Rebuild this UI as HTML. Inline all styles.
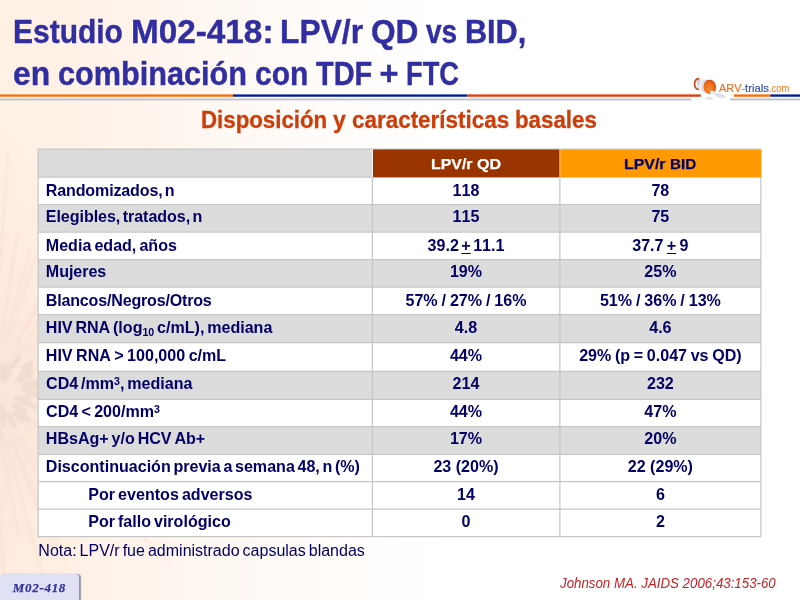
<!DOCTYPE html>
<html lang="es">
<head>
<meta charset="utf-8">
<title>Estudio M02-418: LPV/r QD vs BID</title>
<style>
html,body{margin:0;padding:0;}
body{width:800px;height:600px;overflow:hidden;position:relative;background:#fff;
  font-family:"Liberation Sans",sans-serif;font-kerning:none;}
#bg{position:absolute;left:0;top:0;width:800px;height:600px;
  background:radial-gradient(ellipse 100px 280px at 0 410px,rgba(247,224,208,.6),rgba(247,224,208,0) 100%),linear-gradient(90deg,#fff0e4 0%,#fff1e6 8%,#fff3ea 14%,#fff7f1 25%,#fffbf8 37.5%,#fffefd 50%,#ffffff 56%,#ffffff 100%);}
#bgsvg{position:absolute;left:0;top:0;width:800px;height:600px;filter:blur(0.8px);}
.t{position:absolute;white-space:pre;line-height:1;margin:0;}
h1,h2{margin:0;padding:0;font-size:inherit;font-weight:inherit;}
.w{position:absolute;white-space:pre;line-height:1;display:block;transform-origin:0 0;font-weight:bold;}
.t1,.t2{font-size:32.5px;color:#302ea0;-webkit-text-stroke:0.4px #302ea0;}
.t1{top:15.5px;}
.t2{top:57.5px;}
.sb{font-size:24.4px;color:#cc3d0a;top:107.6px;-webkit-text-stroke:0.3px #cc3d0a;}
.hd{font-size:15.5px;top:7px;text-align:left;-webkit-text-stroke:0.25px currentColor;}
.h1t{color:#fff;}
.h2t{color:#000066;}
.lg{font-size:11.2px;top:83.4px;font-weight:normal;-webkit-text-stroke:0.2px currentColor;}
/* table text laid out in absolutely positioned rows so the fractional row pitch is kept; grid + fills are drawn in #grid */
#grid{position:absolute;left:0;top:0;width:800px;height:600px;}
table{position:absolute;display:block;left:37.5px;top:149px;width:723.4px;height:387.4px;
  font-weight:bold;font-size:16.07px;color:#000066;border-spacing:0;}
tbody{display:block;}
tr{display:block;position:absolute;left:0;width:723.4px;}
td,th{display:block;position:absolute;top:0;height:100%;line-height:inherit;padding:0;text-align:center;white-space:nowrap;}
td:nth-child(1),th:nth-child(1){left:0;width:334.9px;text-align:left;}
td:nth-child(2),th:nth-child(2){left:335.3px;width:186.4px;}
td:nth-child(3),th:nth-child(3){left:522.2px;width:201.4px;}
td:nth-child(1) span{position:relative;}
sub,sup{font-size:66%;line-height:0;}
sup{vertical-align:4.3px;}
sub{vertical-align:-3.2px;}
u{text-decoration-thickness:1.2px;text-underline-offset:1.5px;}
#note{top:542.6px;font-size:16px;color:#000066;}
.rf{font-size:14.6px;font-weight:normal;font-style:italic;color:#c42026;top:575.74px;}
#badge{position:absolute;left:-0.5px;top:574.4px;width:79.2px;height:32px;border-radius:4px;background:#e0e1f5;
  box-shadow:1.2px 0.5px 1.2px rgba(110,110,130,.7);}
#badgetxt{top:581px;font-family:"Liberation Serif","DejaVu Serif",serif;font-weight:bold;font-style:italic;font-size:13px;color:#333399;-webkit-text-stroke:0.25px #333399;}
#rules{position:absolute;left:0;top:0;width:800px;height:600px;}
#logo{position:absolute;left:685px;top:70px;width:60px;height:35px;}
</style>
</head>
<body>
<div id="bg"></div>
<svg id="bgsvg" viewBox="0 0 800 600">
<g stroke="#f3d8c6" stroke-linecap="round" fill="none" opacity="0.4">
<path d="M-4.8 343.7L8.1 150.9" stroke-width="2.1"/>
<path d="M-0.2 343.8L17.8 233.8" stroke-width="2.2"/>
<path d="M5.4 341.9L30.8 246.7" stroke-width="1.9"/>
<path d="M8.1 342.4L58.8 186.3" stroke-width="1.5"/>
<path d="M16.5 343.4L87.5 202.8" stroke-width="2.4"/>
<path d="M11.3 356.7L87.1 218.2" stroke-width="1.5"/>
<path d="M16.4 355.8L72.2 273.2" stroke-width="2.1"/>
<path d="M26.0 351.8L119.3 241.6" stroke-width="2.4"/>
<path d="M27.7 357.1L128.2 259.1" stroke-width="1.8"/>
<path d="M35.8 358.9L177.4 251.8" stroke-width="2.5"/>
<path d="M27.8 367.3L133.4 294.4" stroke-width="1.5"/>
<path d="M32.8 370.7L198.6 284.0" stroke-width="2.0"/>
<path d="M41.0 372.6L122.2 340.4" stroke-width="1.7"/>
<path d="M37.1 378.6L229.5 321.2" stroke-width="2.0"/>
<path d="M39.8 379.4L210.2 334.6" stroke-width="1.8"/>
<path d="M36.4 384.6L234.7 351.5" stroke-width="2.6"/>
<path d="M35.6 388.8L142.7 381.1" stroke-width="1.5"/>
<path d="M34.6 394.8L193.1 405.3" stroke-width="2.1"/>
<path d="M42.6 397.8L145.4 409.7" stroke-width="2.4"/>
<path d="M37.4 401.2L152.1 424.6" stroke-width="1.8"/>
<path d="M40.9 409.9L154.9 451.7" stroke-width="2.8"/>
<path d="M34.5 409.4L208.5 480.8" stroke-width="2.4"/>
<path d="M40.8 417.0L137.6 466.4" stroke-width="1.8"/>
<path d="M28.8 417.8L133.4 490.9" stroke-width="1.5"/>
<path d="M30.7 421.6L124.4 493.4" stroke-width="2.4"/>
<path d="M25.8 424.4L169.2 561.9" stroke-width="2.2"/>
<path d="M26.2 432.5L95.3 514.3" stroke-width="1.6"/>
<path d="M21.0 435.5L84.8 531.4" stroke-width="1.7"/>
<path d="M18.3 439.3L70.6 533.2" stroke-width="2.9"/>
<path d="M11.4 437.0L65.8 563.1" stroke-width="1.6"/>
<path d="M11.9 442.7L52.9 546.7" stroke-width="2.5"/>
<path d="M5.9 442.5L46.6 590.2" stroke-width="1.9"/>
<path d="M1.3 442.0L18.9 537.1" stroke-width="1.8"/>
<path d="M-4.5 444.7L5.6 599.1" stroke-width="1.8"/>
</g>
<g stroke="#e6d2c4" stroke-linecap="round" fill="none" opacity="0.5">
<path d="M-3.5 371.6L-1.5 362.7" stroke-width="4.5"/>
<path d="M-2.6 375.4L0.5 366.0" stroke-width="4.7"/>
<path d="M0.8 375.0L5.7 365.4" stroke-width="5.8"/>
<path d="M11.6 367.0L19.3 357.2" stroke-width="5.2"/>
<path d="M3.2 379.4L9.2 372.6" stroke-width="5.8"/>
<path d="M23.4 368.6L30.7 363.2" stroke-width="5.3"/>
<path d="M21.2 375.4L30.4 370.2" stroke-width="6.0"/>
<path d="M18.7 380.3L30.3 375.3" stroke-width="5.8"/>
<path d="M24.3 385.6L37.0 383.1" stroke-width="5.8"/>
<path d="M24.3 389.1L37.8 387.9" stroke-width="5.7"/>
<path d="M26.9 394.3L40.2 395.1" stroke-width="5.1"/>
<path d="M16.5 397.8L28.1 400.6" stroke-width="5.2"/>
<path d="M21.7 402.0L35.0 406.4" stroke-width="5.8"/>
<path d="M13.7 405.0L24.6 411.5" stroke-width="5.2"/>
<path d="M20.6 414.0L28.1 419.7" stroke-width="5.5"/>
<path d="M14.1 412.9L22.3 420.8" stroke-width="4.5"/>
<path d="M7.7 415.1L14.4 425.1" stroke-width="5.8"/>
<path d="M-0.3 406.3L4.7 415.6" stroke-width="5.4"/>
<path d="M-1.1 410.8L3.6 423.5" stroke-width="5.3"/>
<path d="M-1.3 428.8L0.6 439.3" stroke-width="5.3"/>
</g></svg>

<h1>
<span class="w t1" style="left:13.02px;transform:scaleX(0.9222)">Estudio</span>
<span class="w t1" style="left:131.05px;transform:scaleX(1.0243)">M02-418:</span>
<span class="w t1" style="left:280.15px;transform:scaleX(0.9787)">LPV/r</span>
<span class="w t1" style="left:371.13px;transform:scaleX(0.9728)">QD</span>
<span class="w t1" style="left:426.13px;transform:scaleX(0.8623)">vs</span>
<span class="w t1" style="left:464.98px;transform:scaleX(0.9421)">BID,</span>
<span class="w t2" style="left:12.88px;transform:scaleX(0.9784)">en</span>
<span class="w t2" style="left:57.92px;transform:scaleX(0.9430)">combinación</span>
<span class="w t2" style="left:254.70px;transform:scaleX(0.9220)">con</span>
<span class="w t2" style="left:316.13px;transform:scaleX(0.8907)">TDF</span>
<span class="w t2" style="left:379.60px;transform:scaleX(1.0000)">+</span>
<span class="w t2" style="left:405.97px;transform:scaleX(0.8375)">FTC</span>
</h1>

<svg id="rules" viewBox="0 0 800 600">
  <rect x="0" y="93.3" width="700.8" height="5.2" fill="#ffffff" opacity="0.85"/>
  <rect x="0" y="94.4" width="233.2" height="2.35" fill="#fa6c06"/>
  <rect x="233" y="94.4" width="234.6" height="2.35" fill="#021e94"/>
  <rect x="467.5" y="94.4" width="233.3" height="2.35" fill="#e03e0a"/>
  <rect x="733.8" y="94.4" width="36.8" height="2.35" fill="#fa6c06"/>
  <rect x="770.4" y="94.4" width="29.6" height="2.35" fill="#021e94"/>
  <rect x="0" y="98.45" width="691.4" height="2" fill="#c2c3d1"/>
  <rect x="730" y="98.45" width="70" height="2" fill="#c2c3d1"/>
</svg>

<svg id="logo" viewBox="685 70 60 35">
  <defs>
    <linearGradient id="lgB" x1="0" y1="0" x2="1" y2="0.3">
      <stop offset="0" stop-color="#b9bdcc"/><stop offset="0.4" stop-color="#eceef3"/><stop offset="1" stop-color="#c3c7d4"/>
    </linearGradient>
    <radialGradient id="lgO" cx="0.4" cy="0.62" r="0.75">
      <stop offset="0" stop-color="#f58a2a"/><stop offset="0.55" stop-color="#ee6a16"/><stop offset="1" stop-color="#d23c0c"/>
    </radialGradient>
  </defs>
  <path d="M696.9 78.8 L708.8 80.3 L706.2 93.2 L697.6 89.2 Z" fill="url(#lgB)"/>
  <path d="M698.6 78.6 C693.6 79.2 693.2 87.8 698 89.4" fill="none" stroke="#c44c1a" stroke-width="1.7" stroke-linecap="round"/>
  <ellipse cx="709.8" cy="86.9" rx="6.3" ry="7.2" fill="url(#lgO)" transform="rotate(-10 709.8 86.9)"/>
  <g opacity="0.95">
    <ellipse cx="719.6" cy="95.6" rx="6.4" ry="2.1" fill="#dcdfe9" transform="rotate(16 719.6 95.6)"/>
    <ellipse cx="709.2" cy="98.2" rx="4" ry="1.5" fill="#e0e3ec"/>
    <ellipse cx="712.9" cy="92.9" rx="3.3" ry="1.9" fill="#eceef5" transform="rotate(30 712.9 92.9)"/>
  </g>
</svg>
<div>
<span class="w lg" style="left:718.90px;transform:scaleX(0.9752);color:#e8742c">ARV-</span>
<span class="w lg" style="left:745.35px;transform:scaleX(1.0087);color:#3454a4">trials</span>
<span class="w lg" style="left:768.66px;transform:scaleX(0.8444);color:#f08a3a">.com</span>
</div>

<h2>
<span class="w sb" style="left:201.10px;transform:scaleX(0.9130)">Disposición</span>
<span class="w sb" style="left:333.21px;transform:scaleX(0.9423)">y</span>
<span class="w sb" style="left:351.78px;transform:scaleX(0.9200)">características</span>
<span class="w sb" style="left:514.83px;transform:scaleX(0.9138)">basales</span>
</h2>

<svg id="grid" viewBox="0 0 800 600">
<rect x="38.1" y="149" width="722.8" height="387.5" fill="#ffffff"/>
<rect x="38.1" y="149" width="334.3" height="28.2" fill="#dcdcdc"/>
<rect x="38.1" y="204.5" width="722.8" height="27.6" fill="#dcdcdc"/>
<rect x="38.1" y="259.5" width="722.8" height="27.7" fill="#dcdcdc"/>
<rect x="38.1" y="314.5" width="722.8" height="28.0" fill="#dcdcdc"/>
<rect x="38.1" y="371.3" width="722.8" height="28.1" fill="#dcdcdc"/>
<rect x="38.1" y="426.6" width="722.8" height="27.8" fill="#dcdcdc"/>
<path d="M37.5 149H761.5M37.5 177.2H761.5M37.5 204.5H761.5M37.5 232.1H761.5M37.5 259.5H761.5M37.5 287.2H761.5M37.5 314.5H761.5M37.5 342.5H761.5M37.5 371.3H761.5M37.5 399.4H761.5M37.5 426.6H761.5M37.5 454.4H761.5M37.5 481.6H761.5M37.5 509.2H761.5M37.5 536.5H761.5M38.1 149V536.5M372.4 149V536.5M559.9 149V536.5M760.9 149V536.5" fill="none" stroke="#c6c6c6" stroke-width="1.25"/>
<rect x="371.8" y="149.2" width="389.7" height="28.2" fill="#fbf3ee"/>
<rect x="373.0" y="149.4" width="186.5" height="27.9" fill="#993300"/>
<rect x="560.2" y="149.4" width="201.1" height="27.9" fill="#ff9900"/>
</svg>
<table>
<tr style="top:0;height:28.2px"><th></th><th><span class="w hd h1t" style="left:58.67px;transform:scaleX(1.0255)">LPV/r</span> <span class="w hd h1t" style="left:103.92px;transform:scaleX(1.0345)">QD</span></th><th><span class="w hd h2t" style="left:64.67px;transform:scaleX(1.0255)">LPV/r</span> <span class="w hd h2t" style="left:110.22px;transform:scaleX(0.9800)">BID</span></th></tr>
<tr style="top:28.2px;height:27.3px;line-height:26.46px"><td><span style="left:8.30px;letter-spacing:-0.15px;word-spacing:-2.0px">Randomizados, n</span></td><td>118</td><td>78</td></tr>
<tr style="top:55.5px;height:27.6px;line-height:23.86px"><td><span style="left:8.30px;letter-spacing:-0.05px;word-spacing:-2.0px">Elegibles, tratados, n</span></td><td>115</td><td>75</td></tr>
<tr style="top:83.1px;height:27.4px;line-height:26.66px"><td><span style="left:8.30px;word-spacing:-1.4px">Media edad, años</span></td><td style="word-spacing:-2.0px">39.2 <u>+</u> 11.1</td><td style="word-spacing:-1.12px">37.7 <u>+</u> 9</td></tr>
<tr style="top:110.5px;height:27.7px;line-height:23.86px"><td><span style="left:8.30px;letter-spacing:-0.05px">Mujeres</span></td><td>19%</td><td>25%</td></tr>
<tr style="top:138.2px;height:27.3px;line-height:26.46px"><td><span style="left:8.30px;letter-spacing:-0.19px">Blancos/Negros/Otros</span></td><td style="word-spacing:-0.56px">57% / 27% / 16%</td><td style="word-spacing:-0.56px">51% / 36% / 13%</td></tr>
<tr style="top:165.5px;height:28.0px;line-height:25.86px"><td><span style="left:8.30px;word-spacing:-1.64px">HIV RNA (log<sub>10</sub> c/mL), mediana</span></td><td>4.8</td><td>4.6</td></tr>
<tr style="top:193.5px;height:28.8px;line-height:25.86px"><td><span style="left:8.30px;word-spacing:-1.01px">HIV RNA &gt; 100,000 c/mL</span></td><td>44%</td><td style="word-spacing:-0.8px">29% (p = 0.047 vs QD)</td></tr>
<tr style="top:222.3px;height:28.1px;line-height:24.26px"><td><span style="left:8.55px;word-spacing:-1.65px">CD4 /mm<sup>3</sup>, mediana</span></td><td>214</td><td>232</td></tr>
<tr style="top:250.4px;height:27.2px;line-height:24.06px"><td><span style="left:8.55px;word-spacing:-1.15px">CD4 &lt; 200/mm<sup>3</sup></span></td><td>44%</td><td>47%</td></tr>
<tr style="top:277.6px;height:27.8px;line-height:23.66px"><td><span style="left:8.30px;word-spacing:-1.6px">HBsAg+ y/o HCV Ab+</span></td><td>17%</td><td>20%</td></tr>
<tr style="top:305.4px;height:27.2px;line-height:24.06px"><td><span style="left:8.30px;word-spacing:-1.8px">Discontinuación previa a semana 48, n (%)</span></td><td style="word-spacing:0.0px">23 (20%)</td><td style="word-spacing:0.0px">22 (29%)</td></tr>
<tr style="top:332.6px;height:27.6px;line-height:25.66px"><td><span style="left:50.75px;word-spacing:-1.38px">Por eventos adversos</span></td><td>14</td><td>6</td></tr>
<tr style="top:360.2px;height:27.3px;line-height:24.46px"><td><span style="left:50.75px;word-spacing:-1.5px">Por fallo virológico</span></td><td>0</td><td>2</td></tr>
</table>

<div class="t" id="note" style="left:38.35px;word-spacing:-1.41px;">Nota: LPV/r fue administrado capsulas blandas</div>
<span class="w rf" style="left:560.10px;transform:scaleX(0.9107)">Johnson MA. JAIDS 2006;43:153-60</span>
<div id="badge"></div>
<div class="t" id="badgetxt" style="left:12.85px;letter-spacing:0.68px;">M02-418</div>
</body>
</html>
